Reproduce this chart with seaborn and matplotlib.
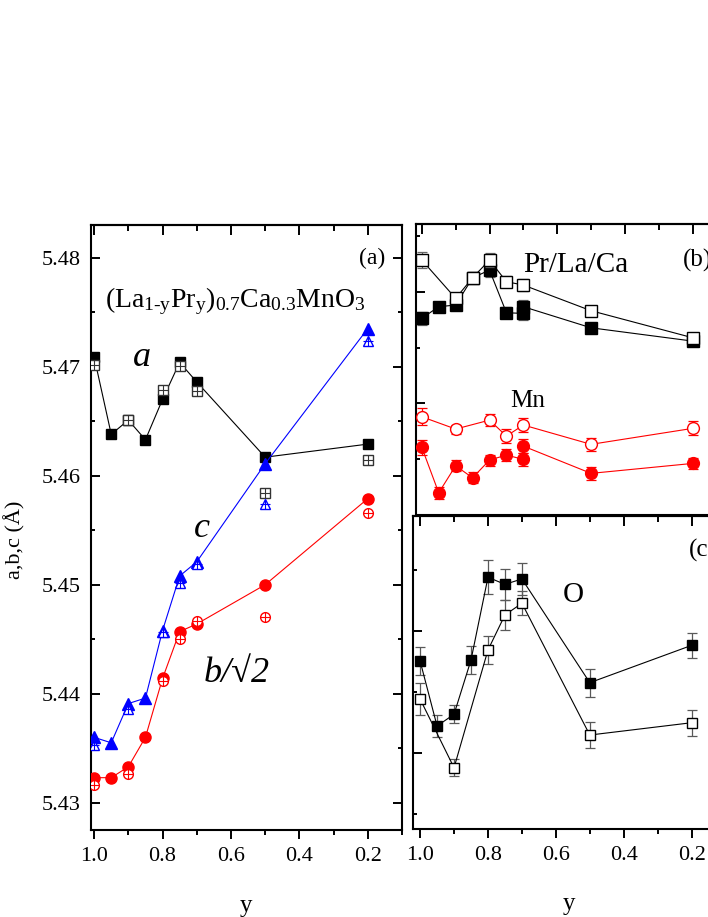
import matplotlib
matplotlib.use("Agg")
import matplotlib.pyplot as plt
from matplotlib.ticker import MultipleLocator, FormatStrFormatter
import seaborn as sns

# composition y: full set (filled symbols) and second set (open symbols)
y_all = [1.0, 0.95, 0.9, 0.85, 0.8, 0.75, 0.7, 0.5, 0.2]
y_sub = [1.0, 0.9, 0.8, 0.75, 0.7, 0.5, 0.2]

# (a) lattice parameters (Angstrom)
a_full = [5.4709, 5.4638, 5.4651, 5.4633, 5.4670, 5.4704, 5.4686, 5.4617, 5.4629]
a_sub = [5.4702, 5.4651, 5.4679, 5.4701, 5.4678, 5.4584, 5.4614]
c_full = [5.4360, 5.4355, 5.4391, 5.4396, 5.4458, 5.4508, 5.4521, 5.4611, 5.4735]
c_sub = [5.4353, 5.4386, 5.4457, 5.4502, 5.4519, 5.4574, 5.4724]
b_full = [5.4323, 5.4323, 5.4333, 5.4360, 5.4414, 5.4457, 5.4464, 5.4500, 5.4579]
b_sub = [5.4316, 5.4326, 5.4412, 5.4450, 5.4467, 5.4470, 5.4566]

# (b) cation positions (arb. units), two samples at y = 0.7
y_b_full = [1.0, 0.95, 0.9, 0.85, 0.8, 0.75, 0.7, 0.7, 0.5, 0.2]
y_b_sq_open = [1.0, 0.9, 0.85, 0.8, 0.75, 0.7, 0.5, 0.2]
prla_full = [1.762, 1.866, 1.881, 2.125, 2.194, 1.812, 1.806, 1.866, 1.677, 1.558]
prla_full_err = [0.06, 0.04, 0.03, 0.05, 0.06, 0.05, 0.06, 0.06, 0.04, 0.03]
prla_open = [2.284, 1.941, 2.125, 2.284, 2.090, 2.060, 1.830, 1.588]
prla_open_err = [0.07, 0.03, 0.03, 0.06, 0.05, 0.05, 0.03, 0.03]
mn_full = [0.606, 0.199, 0.441, 0.333, 0.492, 0.537, 0.498, 0.617, 0.373, 0.462]
mn_full_err = [0.066, 0.055, 0.05, 0.05, 0.05, 0.05, 0.06, 0.06, 0.055, 0.05]
mn_open = [0.880, 0.770, 0.850, 0.707, 0.806, 0.633, 0.776]
mn_open_err = [0.075, 0.04, 0.057, 0.065, 0.06, 0.06, 0.063]

# (c) oxygen (arb. units)
o_full = [1.752, 1.219, 1.315, 1.760, 2.438, 2.380, 2.424, 1.574, 1.880]
o_full_err = [0.115, 0.09, 0.075, 0.115, 0.14, 0.125, 0.13, 0.115, 0.10]
o_open = [1.440, 0.877, 1.842, 2.129, 2.225, 1.145, 1.246]
o_open_err = [0.13, 0.07, 0.115, 0.125, 0.10, 0.11, 0.105]

sns.set_theme(style="ticks")
plt.rcParams["font.family"] = ["Liberation Serif", "DejaVu Serif"]
plt.rcParams.update({
    "mathtext.fontset": "custom",
    "mathtext.rm": "Liberation Serif",
    "mathtext.it": "Liberation Serif:italic",
    "axes.edgecolor": "black",
    "axes.linewidth": 1.5,
    "xtick.color": "black",
    "ytick.color": "black",
    "text.color": "black",
    "axes.labelcolor": "black",
})

W, H = 708, 917
fig = plt.figure(figsize=(W / 100, H / 100), dpi=100)


def rect(l, r, t, b):
    return [l / W, 1 - b / H, (r - l) / W, (b - t) / H]


ax_a = fig.add_axes(rect(90.7, 402, 225, 830))
ax_b = fig.add_axes(rect(415.7, 726.5, 224, 515))
ax_c = fig.add_axes(rect(413.3, 725.6, 516, 829))


def series(ax, x, y, color, marker, ms, filled=True, line=True, cross=False,
           yerr=None, ecolor=None, edge=None, z=3):
    if yerr is not None:
        ax.errorbar(x, y, yerr=yerr, fmt="none", ecolor=ecolor, elinewidth=0.9,
                    capsize=3.6, capthick=0.9, zorder=z)
    edge = edge or color
    sns.lineplot(x=x, y=y, ax=ax, estimator=None, sort=False, color=color,
                 linewidth=0.8, linestyle="-" if line else "none",
                 marker=marker, markersize=ms,
                 markerfacecolor=color if filled else "white",
                 markeredgecolor=edge, markeredgewidth=1.0, zorder=z + 1)
    if cross:
        sns.lineplot(x=x, y=y, ax=ax, estimator=None, sort=False, color=edge,
                     linestyle="none", marker="+", markersize=ms,
                     markeredgecolor=edge, markeredgewidth=0.8, zorder=z + 2)


def style(ax, xlim, ylim, ymaj, ymin, xlabels=True, ylabels=False):
    ax.set_xlim(*xlim)
    ax.set_ylim(*ylim)
    ax.xaxis.set_major_locator(MultipleLocator(0.2))
    ax.xaxis.set_minor_locator(MultipleLocator(0.1))
    ax.yaxis.set_major_locator(MultipleLocator(ymaj))
    ax.yaxis.set_minor_locator(MultipleLocator(ymin))
    ax.xaxis.set_major_formatter(FormatStrFormatter("%.1f"))
    ax.tick_params(axis="x", which="both", direction="out", top=False,
                   width=1.4, labelsize=16, pad=6, labelbottom=xlabels)
    ax.tick_params(axis="y", which="both", direction="in", left=True, right=True,
                   width=1.4, labelsize=16, pad=7.5, labelleft=ylabels)
    ax.tick_params(axis="x", which="major", length=6.5)
    ax.tick_params(axis="x", which="minor", length=3.5)
    ax.tick_params(axis="y", which="major", length=6.5)
    ax.tick_params(axis="y", which="minor", length=3.2)
    top = ax.secondary_xaxis("top")
    top.xaxis.set_major_locator(MultipleLocator(0.2))
    top.xaxis.set_minor_locator(MultipleLocator(0.1))
    top.tick_params(which="both", direction="in", width=1.4, labeltop=False)
    top.tick_params(which="major", length=7)
    top.tick_params(which="minor", length=4)
    top.spines["top"].set_linewidth(1.5)
    ax.set_xlabel("")
    ax.set_ylabel("")


# ---- (a) ----
series(ax_a, y_all, a_full, "black", "s", 7.5)
series(ax_a, y_sub, a_sub, "white", "s", 7.0, filled=False, line=False,
       cross=True, edge="#333333")
series(ax_a, y_all, c_full, "blue", "^", 8.0)
series(ax_a, y_sub, c_sub, "blue", "^", 7.5, filled=False, line=False, cross=True)
series(ax_a, y_all, b_full, "red", "o", 8.0)
series(ax_a, y_sub, b_sub, "red", "o", 7.0, filled=False, line=False, cross=True)
style(ax_a, (1.01, 0.1), (5.4275, 5.483), 0.01, 0.005, ylabels=True)
ax_a.yaxis.set_major_formatter(FormatStrFormatter("%.2f"))
ax_a.set_xlabel("y", fontsize=18)
ax_a.xaxis.set_label_coords(0.5, -0.107)
ax_a.set_ylabel("a,b,c (Å)", fontsize=16)
ax_a.yaxis.set_label_coords(-0.21, 0.48)

ax_a.text(0.903, 0.945, "(a)", transform=ax_a.transAxes, fontsize=17,
          ha="center", va="center")
ax_a.text(0.046, 0.865,
          r"(La$_{\text{1-y}}$Pr$_{\mathrm{y}}$)$_{\mathrm{0.7}}$Ca$_{\mathrm{0.3}}$MnO$_{\mathrm{3}}$",
          transform=ax_a.transAxes, fontsize=20, ha="left", va="baseline")
ax_a.text(0.164, 0.767, "a", transform=ax_a.transAxes, fontsize=26,
          fontstyle="italic", ha="center", va="baseline")
ax_a.text(0.357, 0.484, "c", transform=ax_a.transAxes, fontsize=26,
          fontstyle="italic", ha="center", va="baseline")
ax_a.text(0.362, 0.245, "b/√2", transform=ax_a.transAxes, fontsize=26,
          fontstyle="italic", ha="left", va="baseline")

# ---- (b) ----
series(ax_b, y_b_full, prla_full, "black", "s", 8.5, yerr=prla_full_err, ecolor="0.4")
series(ax_b, y_b_sq_open, prla_open, "black", "s", 8.5, filled=False,
       yerr=prla_open_err, ecolor="0.4", z=5)
series(ax_b, y_b_full, mn_full, "red", "o", 8.5, yerr=mn_full_err, ecolor="red")
series(ax_b, y_sub, mn_open, "red", "o", 8.5, filled=False,
       yerr=mn_open_err, ecolor="red", z=5)
style(ax_b, (1.018, 0.1), (0.0, 2.607), 1.0, 0.5, xlabels=False)
ax_b.text(0.859, 0.853, "(b)", transform=ax_b.transAxes, fontsize=18,
          ha="left", va="baseline")
ax_b.text(0.345, 0.836, "Pr/La/Ca", transform=ax_b.transAxes, fontsize=21,
          ha="left", va="baseline")
ax_b.text(0.303, 0.372, "Mn", transform=ax_b.transAxes, fontsize=18,
          ha="left", va="baseline")

# ---- (c) ----
series(ax_c, y_all, o_full, "black", "s", 7.2, yerr=o_full_err, ecolor="0.35")
series(ax_c, y_sub, o_open, "black", "s", 7.2, filled=False,
       yerr=o_open_err, ecolor="0.35", z=5)
style(ax_c, (1.02, 0.1), (0.375, 2.94), 1.0, 0.5)
ax_c.set_xlabel("y", fontsize=18)
ax_c.xaxis.set_label_coords(0.5, -0.205)
ax_c.text(0.881, 0.870, "(c)", transform=ax_c.transAxes, fontsize=18,
          ha="left", va="baseline")
ax_c.text(0.511, 0.726, "O", transform=ax_c.transAxes, fontsize=21,
          ha="center", va="baseline")

fig.savefig("out.png", dpi=100)
